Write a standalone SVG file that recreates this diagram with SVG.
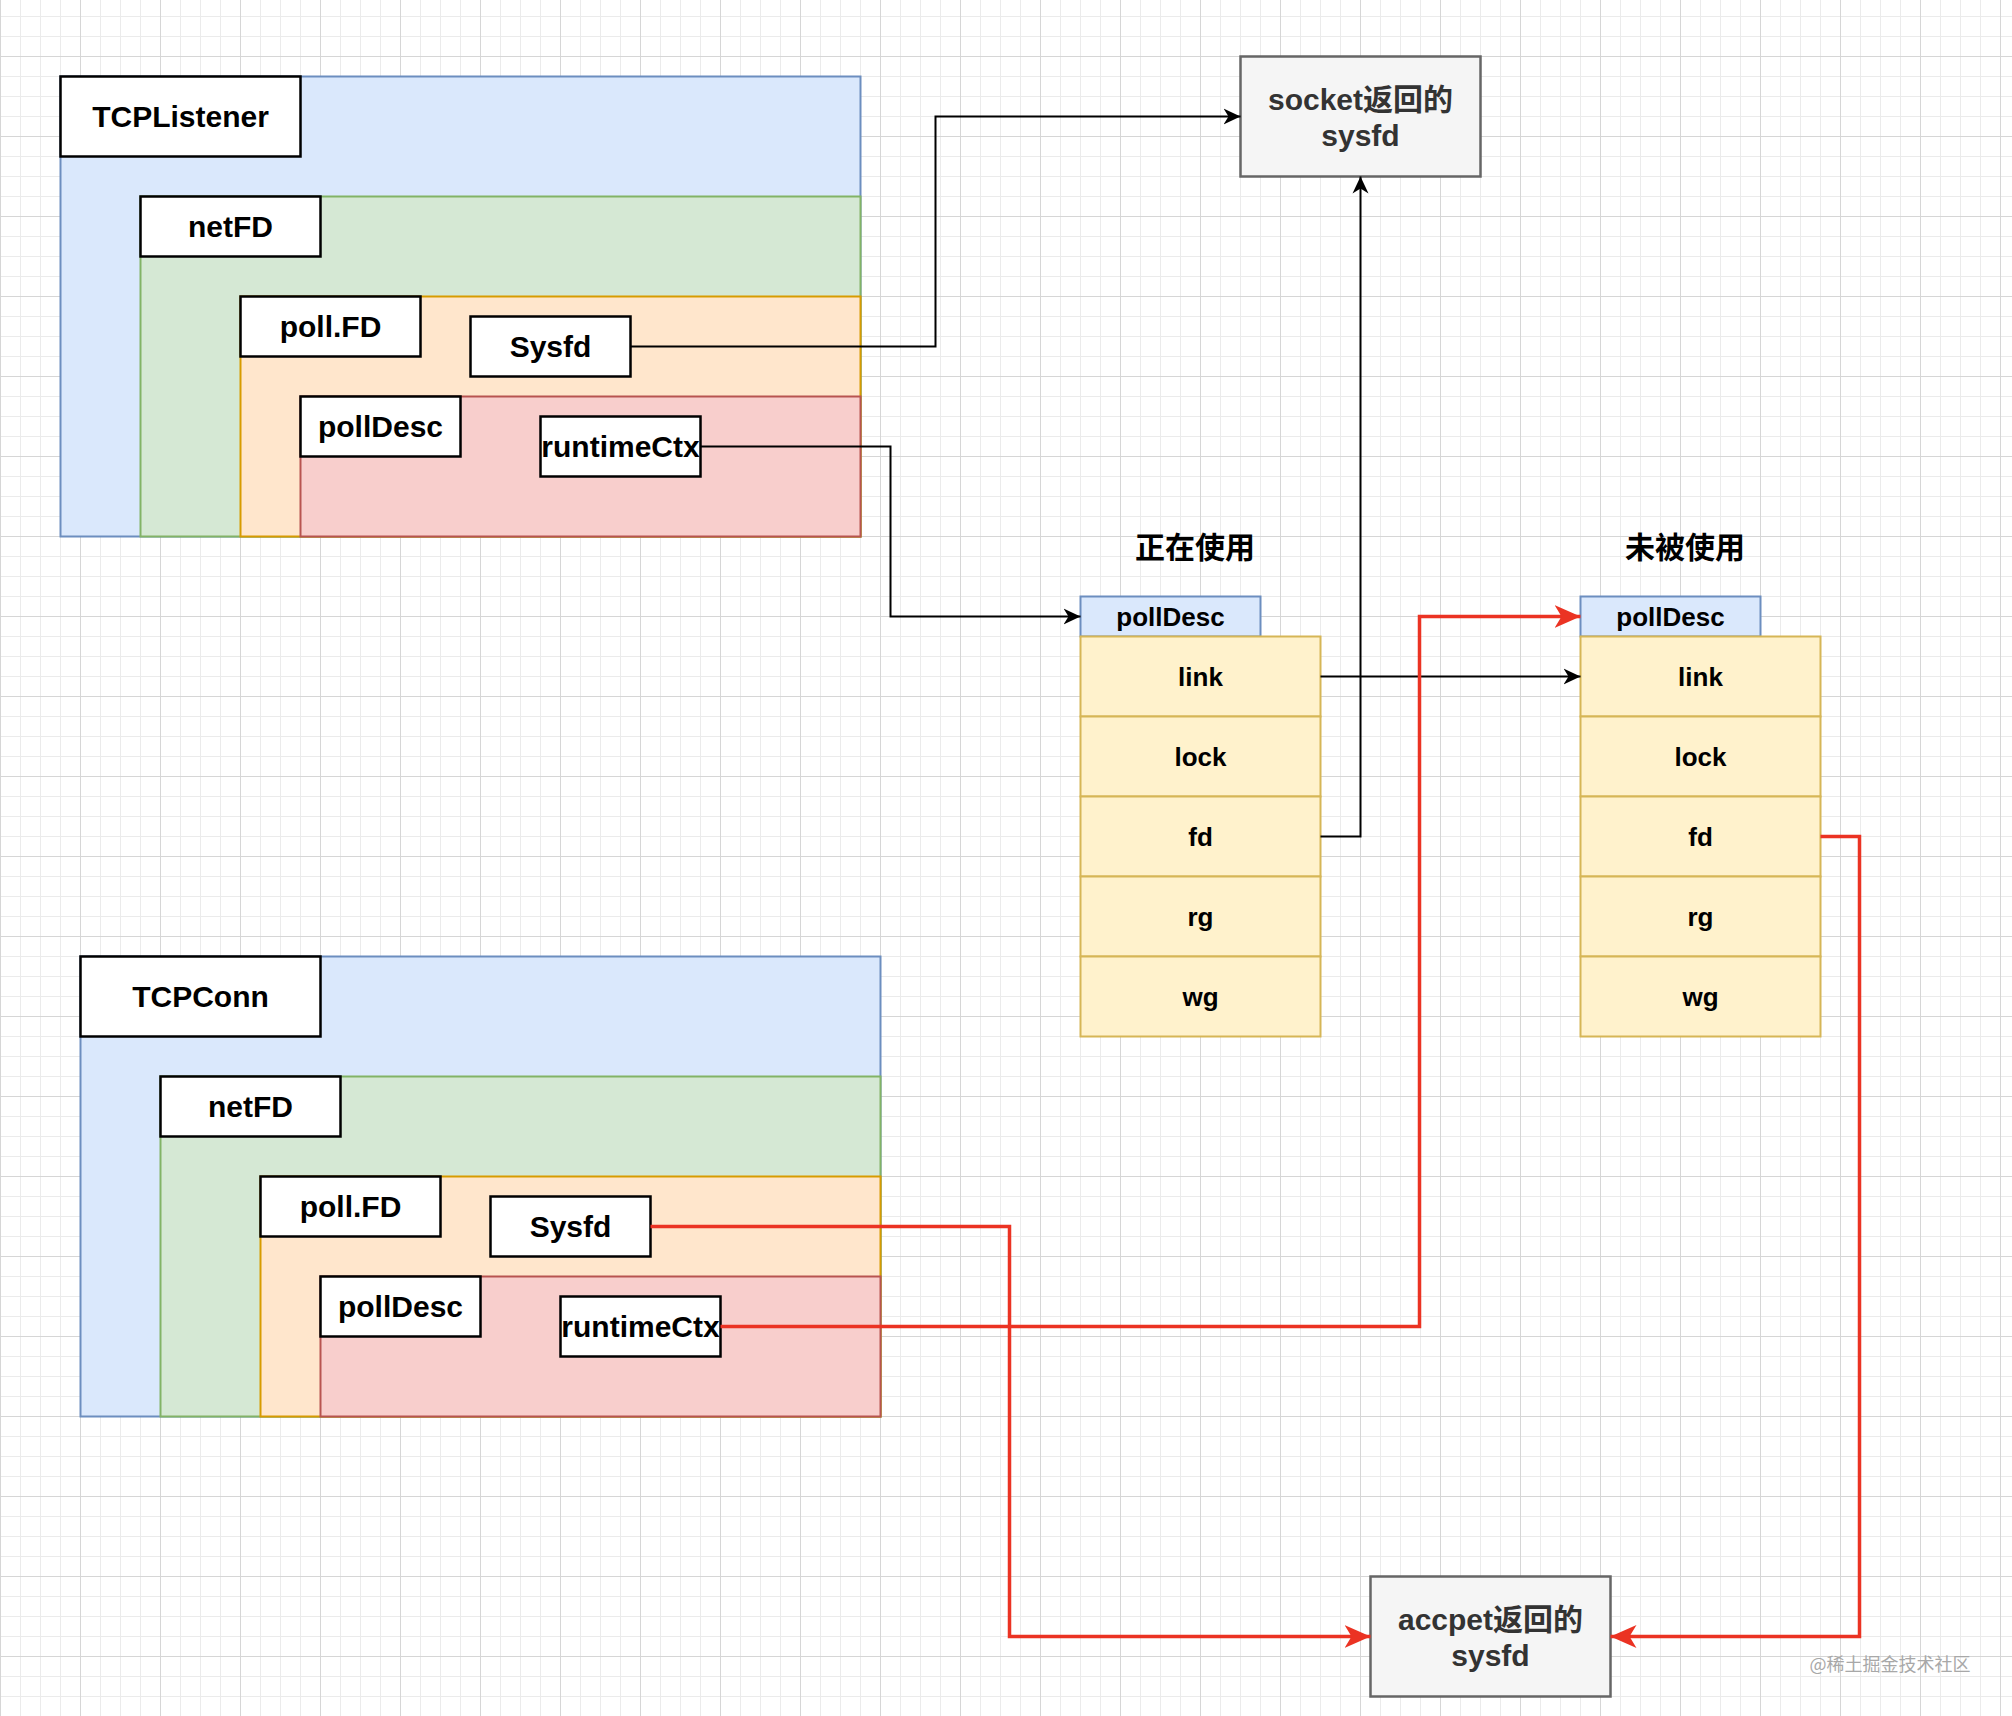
<svg xmlns="http://www.w3.org/2000/svg" width="2012" height="1716" viewBox="0 0 2012 1716">
<defs>
<style>
.t{font-family:"Liberation Sans",Arial,"Noto Sans CJK SC",sans-serif;font-weight:bold;font-size:30px;text-anchor:middle;dominant-baseline:central;fill:#000}
.s{font-size:26px}
.g{fill:#333333}
.lbl{fill:#ffffff;stroke:#000000;stroke-width:2.5}
.blue{fill:#dae8fc;stroke:#6c8ebf;stroke-width:2}
.green{fill:#d5e8d4;stroke:#82b366;stroke-width:2}
.orange{fill:#ffe6cc;stroke:#d79b00;stroke-width:2}
.red{fill:#f8cecc;stroke:#b85450;stroke-width:2}
.cell{fill:#fff2cc;stroke:#d6b656;stroke-width:2}
.grey{fill:#f5f5f5;stroke:#666666;stroke-width:2.5}
.cb{fill:none;stroke:#000000;stroke-width:2;marker-end:url(#ab)}
.cr{fill:none;stroke:#eb3323;stroke-width:3.5;marker-end:url(#ar)}
</style>
<pattern id="grid" x="0" y="56" width="80" height="80" patternUnits="userSpaceOnUse">
<rect width="80" height="80" fill="#ffffff"/>
<rect x="20" y="0" width="1" height="80" fill="#ebebeb"/>
<rect x="40" y="0" width="1" height="80" fill="#ebebeb"/>
<rect x="60" y="0" width="1" height="80" fill="#ebebeb"/>
<rect x="0" y="20" width="80" height="1" fill="#ebebeb"/>
<rect x="0" y="40" width="80" height="1" fill="#ebebeb"/>
<rect x="0" y="60" width="80" height="1" fill="#ebebeb"/>
<rect x="0" y="0" width="1" height="80" fill="#d6d6d6"/>
<rect x="0" y="0" width="80" height="1" fill="#d6d6d6"/>
</pattern>
<marker id="ab" viewBox="0 0 18 18" markerWidth="18" markerHeight="18" refX="17" refY="9" orient="auto" markerUnits="userSpaceOnUse">
<path d="M0,1 L17,9 L0,17 L5,9 Z" fill="#000000"/>
</marker>
<marker id="ar" viewBox="0 0 27 24" markerWidth="27" markerHeight="24" refX="26" refY="12" orient="auto" markerUnits="userSpaceOnUse">
<path d="M0,0.5 L26,12 L0,23.5 L7,12 Z" fill="#eb3323"/>
</marker>
</defs>
<rect x="0" y="0" width="2012" height="1716" fill="url(#grid)"/>

<g id="tcplistener">
<rect class="blue" x="60.5" y="76.5" width="800" height="460"/>
<g id="tcplistener-netfd">
<rect class="green" x="140.5" y="196.5" width="720" height="340"/>
<g id="tcplistener-pollfd">
<rect class="orange" x="240.5" y="296.5" width="620" height="240"/>
<g id="tcplistener-polldesc">
<rect class="red" x="300.5" y="396.5" width="560" height="140"/>
</g>
</g>
</g>
<g id="tcplistener-label"><rect class="lbl" x="60.5" y="76.5" width="240" height="80"/><text class="t" x="180.5" y="116.5">TCPListener</text></g>
<g id="tcplistener-netfd-label"><rect class="lbl" x="140.5" y="196.5" width="180" height="60"/><text class="t" x="230.5" y="226.5">netFD</text></g>
<g id="tcplistener-pollfd-label"><rect class="lbl" x="240.5" y="296.5" width="180" height="60"/><text class="t" x="330.5" y="326.5">poll.FD</text></g>
<g id="tcplistener-sysfd"><rect class="lbl" x="470.5" y="316.5" width="160" height="60"/><text class="t" x="550.5" y="346.5">Sysfd</text></g>
<g id="tcplistener-polldesc-label"><rect class="lbl" x="300.5" y="396.5" width="160" height="60"/><text class="t" x="380.5" y="426.5">pollDesc</text></g>
<g id="tcplistener-runtimectx"><rect class="lbl" x="540.5" y="416.5" width="160" height="60"/><text class="t" x="620.5" y="446.5">runtimeCtx</text></g>
</g>

<g id="tcpconn">
<rect class="blue" x="80.5" y="956.5" width="800" height="460"/>
<g id="tcpconn-netfd">
<rect class="green" x="160.5" y="1076.5" width="720" height="340"/>
<g id="tcpconn-pollfd">
<rect class="orange" x="260.5" y="1176.5" width="620" height="240"/>
<g id="tcpconn-polldesc">
<rect class="red" x="320.5" y="1276.5" width="560" height="140"/>
</g>
</g>
</g>
<g id="tcpconn-label"><rect class="lbl" x="80.5" y="956.5" width="240" height="80"/><text class="t" x="200.5" y="996.5">TCPConn</text></g>
<g id="tcpconn-netfd-label"><rect class="lbl" x="160.5" y="1076.5" width="180" height="60"/><text class="t" x="250.5" y="1106.5">netFD</text></g>
<g id="tcpconn-pollfd-label"><rect class="lbl" x="260.5" y="1176.5" width="180" height="60"/><text class="t" x="350.5" y="1206.5">poll.FD</text></g>
<g id="tcpconn-sysfd"><rect class="lbl" x="490.5" y="1196.5" width="160" height="60"/><text class="t" x="570.5" y="1226.5">Sysfd</text></g>
<g id="tcpconn-polldesc-label"><rect class="lbl" x="320.5" y="1276.5" width="160" height="60"/><text class="t" x="400.5" y="1306.5">pollDesc</text></g>
<g id="tcpconn-runtimectx"><rect class="lbl" x="560.5" y="1296.5" width="160" height="60"/><text class="t" x="640.5" y="1326.5">runtimeCtx</text></g>
</g>

<g id="socket-sysfd">
<rect class="grey" x="1240.5" y="56.5" width="240" height="120"/>
<text class="t g" x="1360.5" y="99.5">socket返回的</text>
<text class="t g" x="1360.5" y="135.5">sysfd</text>
</g>

<g id="accept-sysfd">
<rect class="grey" x="1370.5" y="1576.5" width="240" height="120"/>
<text class="t g" x="1490.5" y="1619.5">accpet返回的</text>
<text class="t g" x="1490.5" y="1655.5">sysfd</text>
</g>

<g id="label-inuse"><text class="t" x="1195" y="547">正在使用</text></g>
<g id="label-unused"><text class="t" x="1685" y="547">未被使用</text></g>

<g id="polldesc-inuse">
<rect class="blue" x="1080.5" y="596.5" width="180" height="40"/>
<text class="t s" x="1170.5" y="616.5">pollDesc</text>
<rect class="cell" x="1080.5" y="636.5" width="240" height="80"/>
<text class="t s" x="1200.5" y="676.5">link</text>
<rect class="cell" x="1080.5" y="716.5" width="240" height="80"/>
<text class="t s" x="1200.5" y="756.5">lock</text>
<rect class="cell" x="1080.5" y="796.5" width="240" height="80"/>
<text class="t s" x="1200.5" y="836.5">fd</text>
<rect class="cell" x="1080.5" y="876.5" width="240" height="80"/>
<text class="t s" x="1200.5" y="916.5">rg</text>
<rect class="cell" x="1080.5" y="956.5" width="240" height="80"/>
<text class="t s" x="1200.5" y="996.5">wg</text>
</g>

<g id="polldesc-unused">
<rect class="blue" x="1580.5" y="596.5" width="180" height="40"/>
<text class="t s" x="1670.5" y="616.5">pollDesc</text>
<rect class="cell" x="1580.5" y="636.5" width="240" height="80"/>
<text class="t s" x="1700.5" y="676.5">link</text>
<rect class="cell" x="1580.5" y="716.5" width="240" height="80"/>
<text class="t s" x="1700.5" y="756.5">lock</text>
<rect class="cell" x="1580.5" y="796.5" width="240" height="80"/>
<text class="t s" x="1700.5" y="836.5">fd</text>
<rect class="cell" x="1580.5" y="876.5" width="240" height="80"/>
<text class="t s" x="1700.5" y="916.5">rg</text>
<rect class="cell" x="1580.5" y="956.5" width="240" height="80"/>
<text class="t s" x="1700.5" y="996.5">wg</text>
</g>

<g id="connectors">
<path class="cb" d="M630.5,346.5 H935.5 V116.5 H1240.5"/>
<path class="cb" d="M700.5,446.5 H890.5 V616.5 H1080.5"/>
<path class="cb" d="M1320.5,836.5 H1360.5 V176.5"/>
<path class="cb" d="M1320.5,676.5 H1580.5"/>
<path class="cr" d="M650.5,1226.5 H1009.5 V1636.5 H1370.5"/>
<path class="cr" d="M720.5,1326.5 H1419.5 V616.5 H1580.5"/>
<path class="cr" d="M1820.5,836.5 H1859.5 V1636.5 H1610.5"/>
</g>

<text x="1890" y="1663" style="font-family:'Noto Sans CJK SC','Noto Sans',sans-serif;font-size:18px;fill:#a8a8a8;text-anchor:middle;dominant-baseline:central">@稀土掘金技术社区</text>
</svg>
